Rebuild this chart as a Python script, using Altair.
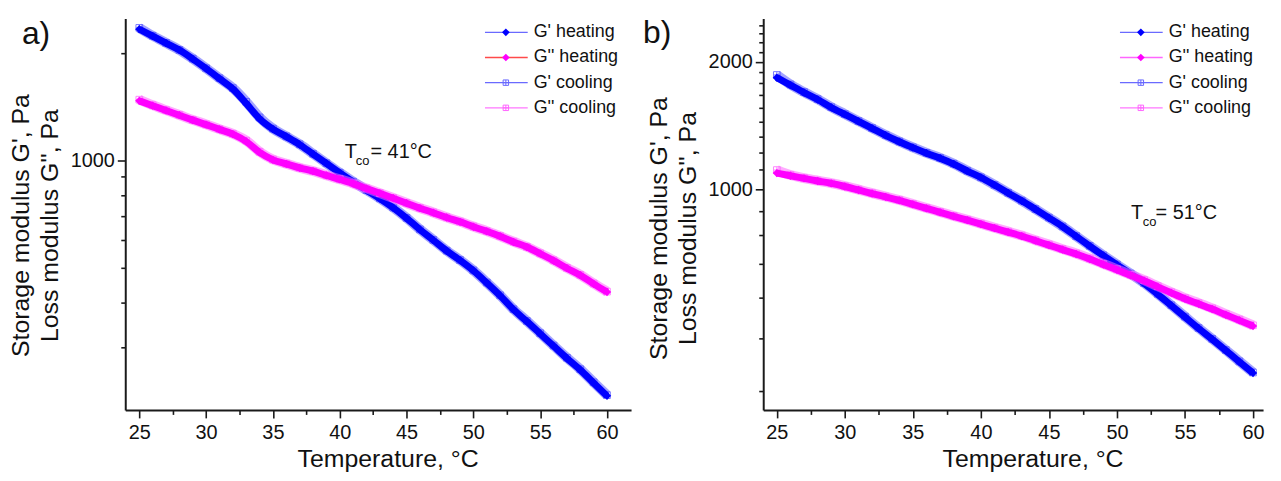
import altair as alt
import pandas as pd

# ---------------- data ----------------
temps = list(range(25, 61))

a_gp_heat = [2332, 2230, 2132, 2038, 1924, 1809, 1695, 1587, 1445, 1309, 1224, 1166,
             1108, 1042, 981, 923, 871, 825, 782, 737, 689, 640, 598, 558,
             525, 491, 454, 418, 382, 354, 327, 302, 279, 259, 238, 219]
a_gpp_heat = [1469, 1424, 1380, 1339, 1297, 1260, 1222, 1185, 1130, 1053, 1004, 978,
              953, 933, 908, 885, 861, 834, 809, 784, 759, 735, 714, 692,
              673, 652, 633, 613, 591, 572, 548, 524, 499, 477, 451, 428]
a_gp_cool = [2352, 2235, 2135, 2040, 1928, 1812, 1700, 1595, 1460, 1320, 1228, 1168,
             1110, 1044, 982, 924, 872, 826, 783, 738, 690, 641, 599, 559,
             526, 492, 455, 419, 383, 355, 328, 303, 280, 260, 239, 220]
a_gpp_cool = [1480, 1428, 1383, 1341, 1299, 1262, 1224, 1188, 1136, 1058, 1006, 979,
              954, 934, 909, 886, 862, 835, 810, 785, 760, 736, 715, 693,
              674, 653, 634, 614, 592, 573, 549, 525, 500, 478, 452, 429]

b_gp_heat = [1835, 1762, 1692, 1629, 1560, 1502, 1447, 1393, 1341, 1295, 1254, 1217,
             1184, 1147, 1104, 1066, 1023, 980, 939, 897, 856, 816, 774, 734,
             697, 663, 631, 599, 565, 531, 499, 469, 442, 416, 391, 368]
b_gpp_heat = [1092, 1076, 1061, 1046, 1032, 1015, 996, 977, 959, 941, 921, 901,
              882, 863, 845, 827, 809, 792, 775, 756, 738, 720, 703, 684,
              664, 645, 626, 608, 588, 569, 551, 536, 521, 505, 490, 475]
b_gp_cool = [1862, 1768, 1696, 1632, 1563, 1505, 1449, 1395, 1343, 1297, 1256, 1219,
             1186, 1149, 1106, 1067, 1024, 981, 940, 898, 857, 817, 775, 735,
             698, 664, 632, 600, 566, 532, 500, 470, 443, 417, 392, 369]
b_gpp_cool = [1110, 1080, 1063, 1048, 1034, 1017, 998, 979, 961, 943, 923, 903,
              884, 865, 847, 829, 811, 794, 777, 758, 740, 722, 705, 686,
              666, 647, 628, 610, 590, 571, 553, 538, 523, 507, 492, 477]

series_names = ["G' heating", "G'' heating", "G' cooling", "G'' cooling"]

x_ticks = [25, 27.5, 30, 32.5, 35, 37.5, 40, 42.5, 45, 47.5, 50, 52.5, 55, 57.5, 60]
a_y_ticks = [300, 400, 500, 600, 700, 800, 900, 1000, 2000]
a_y_major = [1000]
b_y_ticks = [333.33, 444.44, 555.56, 666.67, 777.78, 888.89, 1000,
             1111.1, 1222.2, 1333.3, 1444.4, 1555.6, 1666.7, 1777.8, 1888.9, 2000,
             2111.1, 2222.2, 2333.3, 2444.4]
b_y_major = [1000, 2000]

FONT = "Liberation Sans"
BLUE = "#0000ff"
MAG = "#ff00ff"
CROSS_SQ = "M-1,-1L1,-1L1,1L-1,1Z M0,-1L0,1 M-1,0L1,0"
Y_TITLE = ["Storage modulus G', Pa", "Loss modulus G'', Pa"]


def make_panel(gp_h, gpp_h, gp_c, gpp_c, xdom, width, ydom, height, yticks, ymajor,
               title_x, title_y, annots, leg_line_colors, leg_x, plabel, plabel_x, plabel_y):
    rows = []
    for name, vals in zip(series_names, [gp_h, gpp_h, gp_c, gpp_c]):
        for t, v in zip(temps, vals):
            rows.append({"T": t, "G": v, "series": name})
    df = pd.DataFrame(rows)

    ytest = " || ".join(f"datum.value == {m}" for m in ymajor)
    x_enc = alt.X(
        "T:Q",
        scale=alt.Scale(domain=xdom, nice=False, zero=False),
        axis=alt.Axis(
            values=x_ticks,
            labelExpr="datum.value % 5 == 0 ? datum.label : ''",
            tickSize={"condition": {"test": "datum.value % 5 == 0", "value": 8}, "value": 4.5},
            labelFontSize={"condition": {"test": "datum.value % 5 == 0", "value": 20}, "value": 1},
            labelFlush=False, labelOverlap=False, labelPadding=5,
            title="Temperature, °C", titleX=title_x, titlePadding=4,
        ),
    )
    y_enc = alt.Y(
        "G:Q",
        scale=alt.Scale(type="log", domain=ydom, nice=False),
        axis=alt.Axis(
            values=yticks,
            labelExpr=f"({ytest}) ? format(datum.value, 'd') : ''",
            tickSize={"condition": {"test": ytest, "value": 8}, "value": 4.5},
            labelFontSize={"condition": {"test": ytest, "value": 20}, "value": 1},
            labelOverlap=False, labelPadding=3,
            title=Y_TITLE, titleY=title_y, titlePadding=8, titleLineHeight=29,
        ),
    )

    base = alt.Chart(df)

    def ser(name):
        return base.transform_filter(alt.datum.series == name)

    layers = []
    for h, c, col, light in [("G' heating", "G' cooling", BLUE, "#5a5aff"),
                             ("G'' heating", "G'' cooling", MAG, "#ff66ff")]:
        layers.append(ser(c).mark_line(color=light, strokeWidth=10, opacity=0.55,
                                       interpolate="monotone")
                      .encode(x=x_enc, y=y_enc))
        layers.append(ser(c).mark_point(shape=CROSS_SQ, filled=False, color=light,
                                        size=45, strokeWidth=1, opacity=0.8)
                      .encode(x=x_enc, y=y_enc))
        layers.append(ser(h).mark_line(color=col, strokeWidth=7, interpolate="monotone")
                      .encode(x=x_enc, y=y_enc))
        layers.append(ser(h).mark_point(shape="diamond", filled=True, color=col,
                                        size=70, opacity=1)
                      .encode(x=x_enc, y=y_enc))

    ann = pd.DataFrame(annots)
    for fs in sorted(set(ann["fs"])):
        layers.append(
            alt.Chart(ann[ann["fs"] == fs]).mark_text(
                align="left", baseline="alphabetic", font=FONT, fontSize=fs, color="#111"
            ).encode(x=x_enc, y=y_enc, text="txt:N")
        )
    main = alt.layer(*layers)

    # legend drawn inside the plot
    leg = pd.DataFrame({
        "label": series_names,
        "row": [0, 1, 2, 3],
        "lcol": leg_line_colors,
        "mcol": [BLUE, MAG, "#6a6aff", "#ff66ff"],
        "kind": ["heating", "heating", "cooling", "cooling"],
    })
    ly = alt.Y("row:Q", scale=alt.Scale(domain=[0, 3], range=[14, 90]), axis=None)
    lb = alt.Chart(leg)
    leg_rule = lb.mark_rule(strokeWidth=1.3).encode(
        x=alt.value(leg_x), x2=alt.value(leg_x + 43), y=ly,
        color=alt.Color("lcol:N", scale=None))
    leg_dia = lb.transform_filter(alt.datum.kind == "heating").mark_point(
        shape="diamond", filled=True, size=60, opacity=1).encode(
        x=alt.value(leg_x + 21), y=ly, color=alt.Color("mcol:N", scale=None))
    leg_sq = lb.transform_filter(alt.datum.kind == "cooling").mark_point(
        shape=CROSS_SQ, filled=False, size=30, strokeWidth=1, opacity=1).encode(
        x=alt.value(leg_x + 21), y=ly, color=alt.Color("mcol:N", scale=None))
    leg_txt = lb.mark_text(align="left", baseline="middle", font=FONT, fontSize=18,
                           color="#111").encode(
        x=alt.value(leg_x + 49), y=ly, text="label:N")
    lab = alt.Chart(pd.DataFrame({"t": [plabel]})).mark_text(
        align="left", baseline="alphabetic", font=FONT, fontSize=32, color="#111"
    ).encode(x=alt.value(plabel_x), y=alt.value(plabel_y), text="t:N")
    legend = alt.layer(leg_rule, leg_dia, leg_sq, leg_txt, lab)

    return alt.layer(main, legend).resolve_scale(
        x="independent", y="independent", color="independent"
    ).properties(width=width, height=height)


pa = make_panel(
    a_gp_heat, a_gpp_heat, a_gp_cool, a_gpp_cool,
    xdom=[23.95, 61.8], width=509, ydom=[200, 2500], height=394,
    yticks=a_y_ticks, ymajor=a_y_major, title_x=264, title_y=208,
    annots={"txt": ["T", "co", "= 41°C"], "T": [40.38, 41.2, 42.3],
            "G": [1019, 968, 1019], "fs": [20, 13, 20]},
    leg_line_colors=["#6a6aff", "#ff4a4a", "#6a6aff", "#ff77ff"], leg_x=362,
    plabel="a)", plabel_x=-104, plabel_y=26,
)
pb = make_panel(
    b_gp_heat, b_gpp_heat, b_gp_cool, b_gpp_cool,
    xdom=[24.0, 60.74], width=503, ydom=[301, 2533], height=394,
    yticks=b_y_ticks, ymajor=b_y_major, title_x=271, title_y=211,
    annots={"txt": ["T", "co", "= 51°C"], "T": [51.03, 51.9, 52.84],
            "G": [852, 820, 852], "fs": [20, 13, 20]},
    leg_line_colors=["#6a6aff", "#ff66ff", "#6a6aff", "#ff77ff"], leg_x=359,
    plabel="b)", plabel_x=-121, plabel_y=25,
)

chart = alt.hconcat(pa, pb, spacing=12).properties(
    padding={"left": 0, "top": -2, "right": 0, "bottom": 0}
).configure_view(stroke=None).configure_axis(
    labelFont=FONT, titleFont=FONT, labelFontSize=20, titleFontSize=25,
    titleFontWeight="normal", labelColor="#111", titleColor="#111",
    domainColor="#1a1a1a", domainWidth=2, tickColor="#1a1a1a", tickWidth=1.6,
    grid=False,
)

chart.save("out.html", embed_options={"renderer": "svg", "actions": False})
